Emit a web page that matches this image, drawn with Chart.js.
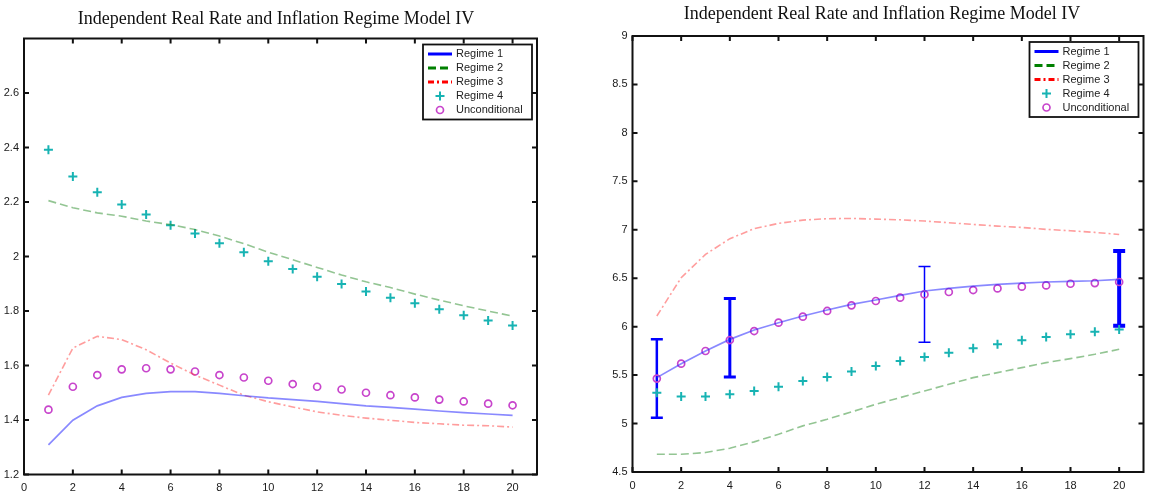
<!DOCTYPE html>
<html><head><meta charset="utf-8">
<script src="https://cdn.jsdelivr.net/npm/chart.js@4/dist/chart.umd.min.js"></script>
<style>
html,body{margin:0;padding:0;background:#fff;width:1150px;height:495px;overflow:hidden}
canvas{position:absolute;top:0}
#c1{left:0}
#c2{left:575px}
</style></head>
<body>
<canvas id="c1" width="575" height="495"></canvas>
<canvas id="c2" width="575" height="495"></canvas>
<script>
// ---------- data ----------
const horizons = [1,2,3,4,5,6,7,8,9,10,11,12,13,14,15,16,17,18,19,20];
const xTickValues = [0,2,4,6,8,10,12,14,16,18,20];
const leftYTickValues = [1.2,1.4,1.6,1.8,2.0,2.2,2.4,2.6];
const rightYTickValues = [4.5,5,5.5,6,6.5,7,7.5,8,8.5,9];
const chartTitle = 'Independent Real Rate and Inflation Regime Model IV';
const seriesNames = ['Regime 1','Regime 2','Regime 3','Regime 4','Unconditional'];

// left panel
const leftRegime1 = [1.309,1.399,1.452,1.483,1.498,1.504,1.504,1.498,1.489,1.481,1.475,1.468,1.460,1.452,1.446,1.440,1.433,1.427,1.422,1.417];
const leftRegime2 = [2.205,2.179,2.160,2.148,2.130,2.117,2.099,2.075,2.047,2.016,1.988,1.960,1.932,1.907,1.886,1.862,1.840,1.819,1.800,1.781];
const leftRegime3 = [1.491,1.664,1.707,1.695,1.658,1.609,1.565,1.528,1.491,1.467,1.448,1.430,1.417,1.407,1.399,1.391,1.386,1.381,1.379,1.374];
const leftRegime4 = [2.392,2.294,2.236,2.191,2.154,2.115,2.084,2.049,2.016,1.983,1.954,1.926,1.899,1.872,1.849,1.828,1.806,1.784,1.765,1.747];
const leftUncond  = [1.438,1.522,1.565,1.586,1.590,1.586,1.578,1.565,1.556,1.544,1.532,1.522,1.512,1.500,1.491,1.483,1.475,1.468,1.460,1.454];

// right panel
const rightRegime1 = [5.474,5.618,5.749,5.869,5.966,6.041,6.110,6.172,6.230,6.275,6.323,6.368,6.395,6.419,6.437,6.450,6.461,6.468,6.474,6.488];
const rightRegime2 = [4.683,4.683,4.701,4.745,4.811,4.890,4.976,5.044,5.120,5.199,5.268,5.337,5.405,5.474,5.526,5.577,5.629,5.670,5.715,5.766];
const rightRegime3 = [6.110,6.505,6.746,6.908,7.011,7.066,7.100,7.114,7.117,7.110,7.103,7.090,7.073,7.055,7.038,7.024,7.004,6.990,6.973,6.952];
const rightRegime4 = [5.319,5.278,5.278,5.302,5.337,5.381,5.440,5.481,5.536,5.594,5.646,5.687,5.732,5.777,5.818,5.859,5.893,5.921,5.948,5.972];
const rightUncond  = [5.464,5.618,5.749,5.862,5.955,6.041,6.103,6.162,6.220,6.265,6.299,6.333,6.358,6.378,6.395,6.413,6.426,6.443,6.450,6.461];

// error bars on Regime 1 (right panel)
const errHorizons = [1,4,12,20];
const errLow  = [5.06,5.48,5.84,6.01];
const errHigh = [5.87,6.29,6.62,6.78];
const errLineWidths = [2.5,3,1.5,4];

// ---------- helpers ----------
const pts = arr => horizons.map((h,i)=>({x:h,y:arr[i]}));

function makeDatasets(r1,r2,r3,r4,u){
  return [
    {label:seriesNames[0],data:pts(r1),showLine:true,borderColor:'rgba(40,40,255,0.55)',borderWidth:1.7,pointRadius:0,
     legendColor:'#0000ff',legendDash:[]},
    {label:seriesNames[1],data:pts(r2),showLine:true,borderColor:'rgba(40,140,40,0.5)',borderWidth:1.6,borderDash:[8,4],pointRadius:0,
     legendColor:'#008000',legendDash:[8,4]},
    {label:seriesNames[2],data:pts(r3),showLine:true,borderColor:'rgba(255,60,60,0.5)',borderWidth:1.6,borderDash:[7,3,2,3],pointRadius:0,
     legendColor:'#ff0000',legendDash:[6,3,2,3]},
    {label:seriesNames[3],data:pts(r4),showLine:false,pointStyle:'cross',pointRadius:4.5,pointBorderWidth:2,
     pointBorderColor:'#17b3b3',borderColor:'#17b3b3',legendColor:'#17b3b3'},
    {label:seriesNames[4],data:pts(u),showLine:false,pointStyle:'circle',pointRadius:3.5,pointBorderWidth:1.7,
     pointBorderColor:'#c845cc',pointBackgroundColor:'rgba(0,0,0,0)',borderColor:'#c845cc',legendColor:'#c845cc'}
  ];
}

const framePlugin = {
  id:'frame',
  afterDraw(chart,args,opts){
    const ctx=chart.ctx, a=chart.chartArea, xs=chart.scales.x, ys=chart.scales.y;
    ctx.save();
    // title
    ctx.fillStyle='#111';
    ctx.font='18px "Liberation Serif", "Times New Roman", serif';
    ctx.textAlign='center'; ctx.textBaseline='alphabetic';
    ctx.fillText(chartTitle, opts.titleX, opts.titleY);
    // axes box
    ctx.strokeStyle='#111'; ctx.lineWidth=2; ctx.setLineDash([]);
    ctx.strokeRect(a.left,a.top,a.right-a.left,a.bottom-a.top);
    const tl=5;
    ctx.beginPath();
    xs.ticks.forEach(t=>{
      const px=xs.getPixelForValue(t.value);
      ctx.moveTo(px,a.bottom); ctx.lineTo(px,a.bottom-tl);
      ctx.moveTo(px,a.top); ctx.lineTo(px,a.top+tl);
    });
    ys.ticks.forEach(t=>{
      const py=ys.getPixelForValue(t.value);
      ctx.moveTo(a.left,py); ctx.lineTo(a.left+tl,py);
      ctx.moveTo(a.right,py); ctx.lineTo(a.right-tl,py);
    });
    ctx.stroke();
    // legend
    const w=109,h=75, bx=a.right-5-w, by=a.top+6;
    ctx.fillStyle='#fff'; ctx.fillRect(bx,by,w,h);
    ctx.lineWidth=1.8; ctx.strokeStyle='#111'; ctx.strokeRect(bx,by,w,h);
    ctx.font='11px "Liberation Sans", Arial, sans-serif';
    ctx.textBaseline='middle'; ctx.textAlign='left';
    chart.data.datasets.forEach((ds,i)=>{
      const y=by+9.5+i*14;
      ctx.save();
      ctx.strokeStyle=ds.legendColor;
      if(ds.showLine){
        ctx.lineWidth=3; ctx.setLineDash(ds.legendDash);
        ctx.beginPath(); ctx.moveTo(bx+5,y); ctx.lineTo(bx+29,y); ctx.stroke();
      } else if(ds.pointStyle==='cross'){
        ctx.lineWidth=2; ctx.beginPath();
        ctx.moveTo(bx+17-4.5,y); ctx.lineTo(bx+17+4.5,y);
        ctx.moveTo(bx+17,y-4.5); ctx.lineTo(bx+17,y+4.5); ctx.stroke();
      } else {
        ctx.lineWidth=1.7; ctx.beginPath(); ctx.arc(bx+17,y,3.5,0,Math.PI*2); ctx.stroke();
      }
      ctx.restore();
      ctx.fillStyle='#222';
      ctx.fillText(ds.label,bx+33,y);
    });
    ctx.restore();
  }
};

const errorBarPlugin = {
  id:'errbars',
  beforeDatasetsDraw(chart,args,opts){
    if(!opts || !opts.x) return;
    const ctx=chart.ctx, xs=chart.scales.x, ys=chart.scales.y;
    ctx.save(); ctx.strokeStyle='#0000ff'; ctx.setLineDash([]);
    opts.x.forEach((xv,i)=>{
      const px=xs.getPixelForValue(xv), y1=ys.getPixelForValue(opts.low[i]), y2=ys.getPixelForValue(opts.high[i]);
      ctx.lineWidth=opts.widths[i];
      ctx.beginPath();
      ctx.moveTo(px,y1); ctx.lineTo(px,y2);
      ctx.moveTo(px-6,y1); ctx.lineTo(px+6,y1);
      ctx.moveTo(px-6,y2); ctx.lineTo(px+6,y2);
      ctx.stroke();
    });
    ctx.restore();
  }
};

function build(id, datasets, yMin, yMax, yTicks, geo, err){
  return new Chart(document.getElementById(id),{
    type:'line',
    data:{datasets},
    options:{
      responsive:false, animation:false, events:[], devicePixelRatio:1,
      layout:{padding:{left:0,right:geo.padR,top:geo.top,bottom:0}},
      plugins:{
        legend:{display:false}, tooltip:{enabled:false}, title:{display:false},
        errbars: err || {},
        frame:{titleX:geo.titleX,titleY:geo.titleY}
      },
      scales:{
        x:{type:'linear',min:0,max:21,
          afterBuildTicks:s=>{s.ticks=xTickValues.map(v=>({value:v}));},
          afterFit:s=>{s.height=geo.xH;},
          grid:{display:false,drawTicks:false}, border:{display:false},
          ticks:{padding:7,color:'#1a1a1a',font:{family:'"Liberation Sans", Arial, sans-serif',size:11},maxRotation:0,autoSkip:false}},
        y:{type:'linear',min:yMin,max:yMax,
          afterBuildTicks:s=>{s.ticks=yTicks.map(v=>({value:v}));},
          afterFit:s=>{s.width=geo.yW;},
          grid:{display:false,drawTicks:false}, border:{display:false},
          ticks:{padding:5,color:'#1a1a1a',font:{family:'"Liberation Sans", Arial, sans-serif',size:11},autoSkip:false,
            callback:v=>String(v)}}
      }
    },
    plugins:[errorBarPlugin,framePlugin]
  });
}

build('c1', makeDatasets(leftRegime1,leftRegime2,leftRegime3,leftRegime4,leftUncond),
  1.2, 2.8, leftYTickValues, {padR:38,yW:24,xH:20.5,top:38.5,titleX:276,titleY:23.5});
build('c2', makeDatasets(rightRegime1,rightRegime2,rightRegime3,rightRegime4,rightUncond),
  4.5, 9, rightYTickValues, {padR:5,yW:57.5,xH:23,top:36,titleX:307,titleY:19},
  {x:errHorizons,low:errLow,high:errHigh,widths:errLineWidths});
</script>
</body></html>
